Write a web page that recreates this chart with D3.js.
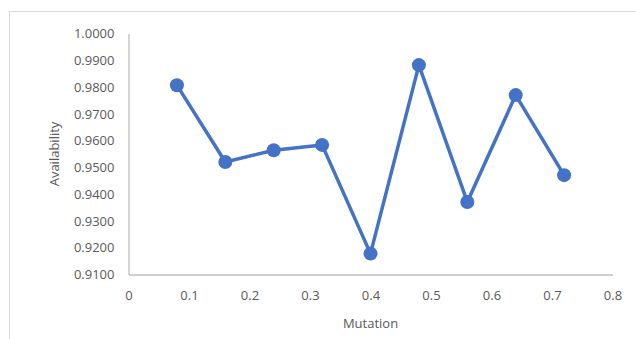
<!DOCTYPE html>
<html>
<head>
<meta charset="utf-8">
<script src="https://cdn.jsdelivr.net/npm/d3@7"></script>
<style>
  html, body { margin: 0; padding: 0; background: #fff; }
  svg { display: block; }
  text { font-family: "Open Sans", "Noto Sans", sans-serif; fill: #595959; }
</style>
</head>
<body>
<script>
// Availability measured at each mutation rate
const mutation = [0.08, 0.16, 0.24, 0.32, 0.40, 0.48, 0.56, 0.64, 0.72];
const availability = [0.9807, 0.9520, 0.9564, 0.9584, 0.9178, 0.9882, 0.9371, 0.9770, 0.9471];
const xTicks = [0, 0.1, 0.2, 0.3, 0.4, 0.5, 0.6, 0.7, 0.8];
const yTicks = [0.91, 0.92, 0.93, 0.94, 0.95, 0.96, 0.97, 0.98, 0.99, 1.0];

const W = 636, H = 339;
const margin = { left: 128.5, right: 23.5, top: 33.5, bottom: 64.5 };

const svg = d3.select("body").append("svg")
  .attr("width", W).attr("height", H);

// Chart area frame
svg.append("rect")
  .attr("x", 9.5).attr("y", 11.5)
  .attr("width", 700).attr("height", 400)
  .attr("fill", "none").attr("stroke", "#d9d9d9").attr("stroke-width", 1);

const x = d3.scaleLinear().domain([0, 0.8]).range([margin.left, W - margin.right]);
const y = d3.scaleLinear().domain([0.91, 1.0]).range([H - margin.bottom, margin.top]);

// X axis
const xAxis = svg.append("g")
  .attr("transform", `translate(0,${y(0.91)})`)
  .call(d3.axisBottom(x).tickValues(xTicks).tickSize(0).tickPadding(16)
    .tickFormat(d => d === 0 ? "0" : d3.format(".1f")(d)));
xAxis.select(".domain").attr("stroke", "#bfbfbf").attr("stroke-width", 1.3);
xAxis.selectAll("text").attr("font-size", 13).style("fill", "#595959");

// Y axis
const yAxis = svg.append("g")
  .attr("transform", `translate(${x(0)},0)`)
  .call(d3.axisLeft(y).tickValues(yTicks).tickSize(0).tickPadding(14)
    .tickFormat(d3.format(".4f")));
yAxis.select(".domain").attr("stroke", "#bfbfbf").attr("stroke-width", 1.3);
yAxis.selectAll("text").attr("font-size", 13).style("fill", "#595959");

// Axis titles
svg.append("text")
  .attr("x", (x(0) + x(0.8)) / 2).attr("y", 328)
  .attr("text-anchor", "middle").attr("font-size", 13)
  .text("Mutation");

svg.append("text")
  .attr("transform", `translate(59,${(y(0.91) + y(1.0)) / 2}) rotate(-90)`)
  .attr("text-anchor", "middle").attr("font-size", 13)
  .text("Availability");

// Series line and markers
const data = mutation.map((m, i) => ({ m, a: availability[i] }));
const line = d3.line().x(d => x(d.m)).y(d => y(d.a));

svg.append("path")
  .datum(data)
  .attr("d", line)
  .attr("fill", "none")
  .attr("stroke", "#4472c4")
  .attr("stroke-width", 3.5)
  .attr("stroke-linejoin", "round");

svg.selectAll("circle.pt")
  .data(data)
  .join("circle")
  .attr("class", "pt")
  .attr("cx", d => x(d.m))
  .attr("cy", d => y(d.a))
  .attr("r", 7)
  .attr("fill", "#4472c4");
</script>
</body>
</html>
